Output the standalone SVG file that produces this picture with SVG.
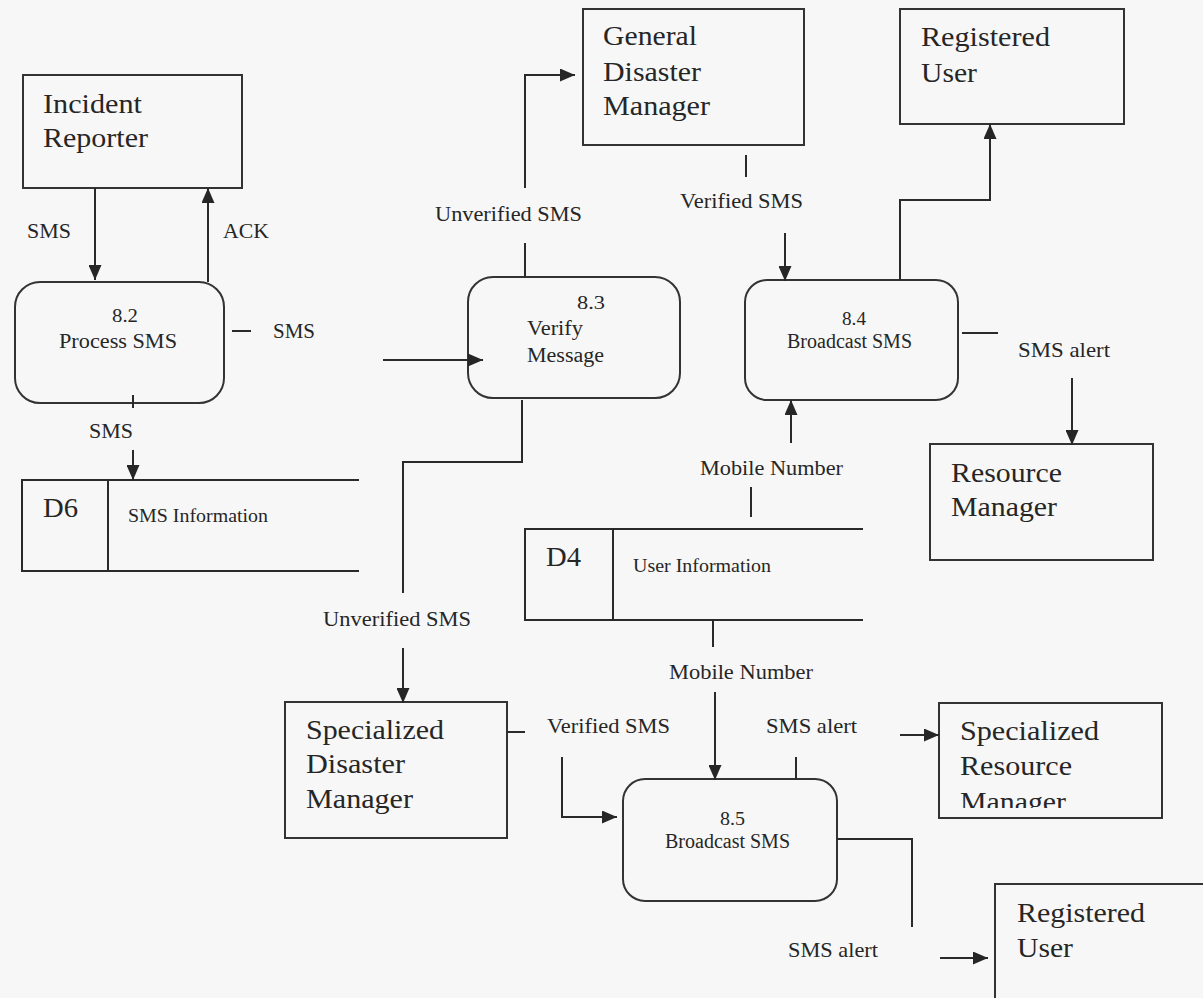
<svg xmlns="http://www.w3.org/2000/svg" width="1203" height="998" viewBox="0 0 1203 998">
  <defs>
    <marker id="arrow" markerUnits="userSpaceOnUse" markerWidth="15" markerHeight="13" refX="15" refY="6.5" orient="auto">
      <path d="M0,0 L15,6.5 L0,13 Z" fill="#262626"/>
    </marker>
    <clipPath id="srm-clip">
      <rect x="939" y="703" width="223" height="105"/>
    </clipPath>
  </defs>
  <style>
    .box { fill: none; stroke: #333; stroke-width: 2; }
    .proc { fill: none; stroke: #333; stroke-width: 2; }
    .wire { fill: none; stroke: #2a2a2a; stroke-width: 2; }
    .flow { stroke: #2a2a2a; stroke-width: 2; fill: none; marker-end: url(#arrow); }
    text { font-family: "Liberation Serif", "Times New Roman", serif; fill: #262626; }
    .ent { font-size: 27px; }
    .lbl { font-size: 21px; }
    .num { font-size: 18px; }
    .pname { font-size: 20px; }
    .store { font-size: 18px; }
    .sid { font-size: 27px; }
  </style>

  <rect x="0" y="0" width="1203" height="998" fill="#f7f7f7"/>

  <!-- external entities -->
  <g id="incident-reporter">
    <rect class="box" x="23" y="75" width="219" height="113"/>
    <text class="ent" x="43" y="113" textLength="99" lengthAdjust="spacingAndGlyphs">Incident</text>
    <text class="ent" x="43" y="147" textLength="105" lengthAdjust="spacingAndGlyphs">Reporter</text>
  </g>

  <g id="general-disaster-manager">
    <rect class="box" x="583" y="9" width="221" height="136"/>
    <text class="ent" x="603" y="45" textLength="94" lengthAdjust="spacingAndGlyphs">General</text>
    <text class="ent" x="603" y="81" textLength="98" lengthAdjust="spacingAndGlyphs">Disaster</text>
    <text class="ent" x="603" y="115" textLength="107" lengthAdjust="spacingAndGlyphs">Manager</text>
  </g>

  <g id="registered-user-top">
    <rect class="box" x="900" y="9" width="224" height="115"/>
    <text class="ent" x="921" y="46" textLength="129" lengthAdjust="spacingAndGlyphs">Registered</text>
    <text class="ent" x="921" y="82" textLength="56" lengthAdjust="spacingAndGlyphs">User</text>
  </g>

  <g id="resource-manager">
    <rect class="box" x="930" y="444" width="223" height="116"/>
    <text class="ent" x="951" y="482" textLength="111" lengthAdjust="spacingAndGlyphs">Resource</text>
    <text class="ent" x="951" y="516" textLength="106" lengthAdjust="spacingAndGlyphs">Manager</text>
  </g>

  <g id="specialized-disaster-manager">
    <rect class="box" x="285" y="702" width="222" height="136"/>
    <text class="ent" x="306" y="739" textLength="138" lengthAdjust="spacingAndGlyphs">Specialized</text>
    <text class="ent" x="306" y="773" textLength="99" lengthAdjust="spacingAndGlyphs">Disaster</text>
    <text class="ent" x="306" y="808" textLength="107" lengthAdjust="spacingAndGlyphs">Manager</text>
  </g>

  <g id="specialized-resource-manager">
    <rect class="box" x="939" y="703" width="223" height="115"/>
    <text class="ent" x="960" y="740" textLength="139" lengthAdjust="spacingAndGlyphs">Specialized</text>
    <text class="ent" x="960" y="775" textLength="112" lengthAdjust="spacingAndGlyphs">Resource</text>
    <text class="ent" x="960" y="811" textLength="106" lengthAdjust="spacingAndGlyphs" clip-path="url(#srm-clip)">Manager</text>
  </g>

  <g id="registered-user-bottom">
    <rect class="box" x="995" y="884" width="220" height="130"/>
    <text class="ent" x="1017" y="922" textLength="128" lengthAdjust="spacingAndGlyphs">Registered</text>
    <text class="ent" x="1017" y="957" textLength="56" lengthAdjust="spacingAndGlyphs">User</text>
  </g>

  <!-- processes -->
  <g id="process-8-2">
    <rect class="proc" x="15" y="282" width="209" height="121" rx="25" ry="25"/>
    <text class="num" x="112" y="322" textLength="26" lengthAdjust="spacingAndGlyphs">8.2</text>
    <text class="pname" x="59" y="348" textLength="118" lengthAdjust="spacingAndGlyphs">Process SMS</text>
  </g>

  <g id="process-8-3">
    <rect class="proc" x="468" y="277" width="212" height="121" rx="25" ry="25"/>
    <text class="num" x="577" y="309" textLength="28" lengthAdjust="spacingAndGlyphs">8.3</text>
    <text class="pname" x="527" y="335" textLength="56" lengthAdjust="spacingAndGlyphs">Verify</text>
    <text class="pname" x="527" y="362" textLength="77" lengthAdjust="spacingAndGlyphs">Message</text>
  </g>

  <g id="process-8-4">
    <rect class="proc" x="745" y="280" width="213" height="120" rx="22" ry="22"/>
    <text class="num" x="842" y="325" textLength="24" lengthAdjust="spacingAndGlyphs">8.4</text>
    <text class="pname" x="787" y="348" textLength="125" lengthAdjust="spacingAndGlyphs">Broadcast SMS</text>
  </g>

  <g id="process-8-5">
    <rect class="proc" x="623" y="779" width="214" height="122" rx="22" ry="22"/>
    <text class="num" x="720" y="825" textLength="25" lengthAdjust="spacingAndGlyphs">8.5</text>
    <text class="pname" x="665" y="848" textLength="125" lengthAdjust="spacingAndGlyphs">Broadcast SMS</text>
  </g>

  <!-- data stores -->
  <g id="store-d6">
    <path class="wire" d="M359,480 H22 V571 H359 M108,480 V571"/>
    <text class="sid" x="43" y="517" textLength="35" lengthAdjust="spacingAndGlyphs">D6</text>
    <text class="store" x="128" y="522" textLength="140" lengthAdjust="spacingAndGlyphs">SMS Information</text>
  </g>

  <g id="store-d4">
    <path class="wire" d="M863,529 H525 V620 H863 M613,529 V620"/>
    <text class="sid" x="546" y="566" textLength="35" lengthAdjust="spacingAndGlyphs">D4</text>
    <text class="store" x="633" y="572" textLength="138" lengthAdjust="spacingAndGlyphs">User Information</text>
  </g>

  <!-- data flows -->
  <g id="connectors">
    <!-- Incident Reporter <-> 8.2 -->
    <line class="flow" x1="95" y1="188" x2="95" y2="280"/>
    <line class="flow" x1="208" y1="282" x2="208" y2="188"/>

    <!-- 8.2 -> 8.3 -->
    <line class="wire" x1="232" y1="331" x2="251" y2="331"/>
    <line class="flow" x1="383" y1="360" x2="483" y2="360"/>

    <!-- 8.2 -> D6 -->
    <line class="wire" x1="133" y1="395" x2="133" y2="408"/>
    <line class="flow" x1="133" y1="450" x2="133" y2="480"/>

    <!-- 8.3 -> General Disaster Manager -->
    <line class="wire" x1="525" y1="277" x2="525" y2="243"/>
    <path class="flow" d="M525,188 V75 H575"/>

    <!-- General Disaster Manager -> 8.4 -->
    <line class="wire" x1="746" y1="155" x2="746" y2="177"/>
    <line class="flow" x1="785" y1="233" x2="785" y2="281"/>

    <!-- 8.4 -> Registered User -->
    <path class="flow" d="M900,280 V200 H990 V124"/>

    <!-- 8.4 -> Resource Manager -->
    <line class="wire" x1="962" y1="333" x2="998" y2="333"/>
    <line class="flow" x1="1072" y1="378" x2="1072" y2="445"/>

    <!-- D4 -> 8.4 -->
    <line class="wire" x1="751" y1="487" x2="751" y2="517"/>
    <line class="flow" x1="791" y1="443" x2="791" y2="400"/>

    <!-- 8.3 -> Specialized Disaster Manager -->
    <path class="wire" d="M522,400 V462 H403 V593"/>
    <line class="flow" x1="403" y1="648" x2="403" y2="703"/>

    <!-- D4 -> 8.5 -->
    <line class="wire" x1="713" y1="620" x2="713" y2="647"/>
    <line class="flow" x1="715" y1="692" x2="715" y2="780"/>

    <!-- Specialized Disaster Manager -> 8.5 -->
    <line class="wire" x1="507" y1="732" x2="525" y2="732"/>
    <path class="flow" d="M562,757 V817 H617"/>

    <!-- 8.5 -> Specialized Resource Manager -->
    <line class="wire" x1="796" y1="757" x2="796" y2="779"/>
    <line class="flow" x1="900" y1="735" x2="939" y2="735"/>

    <!-- 8.5 -> Registered User -->
    <path class="wire" d="M837,839 H912 V927"/>
    <line class="flow" x1="940" y1="958" x2="988" y2="958"/>
  </g>

  <!-- flow labels -->
  <g id="flow-labels">
    <text class="lbl" x="27" y="238" textLength="44" lengthAdjust="spacingAndGlyphs">SMS</text>
    <text class="lbl" x="223" y="238" textLength="46" lengthAdjust="spacingAndGlyphs">ACK</text>
    <text class="lbl" x="273" y="338" textLength="42" lengthAdjust="spacingAndGlyphs">SMS</text>
    <text class="lbl" x="89" y="438" textLength="44" lengthAdjust="spacingAndGlyphs">SMS</text>
    <text class="lbl" x="435" y="221" textLength="147" lengthAdjust="spacingAndGlyphs">Unverified SMS</text>
    <text class="lbl" x="680" y="208" textLength="123" lengthAdjust="spacingAndGlyphs">Verified SMS</text>
    <text class="lbl" x="1018" y="357" textLength="92" lengthAdjust="spacingAndGlyphs">SMS alert</text>
    <text class="lbl" x="700" y="475" textLength="143" lengthAdjust="spacingAndGlyphs">Mobile Number</text>
    <text class="lbl" x="323" y="626" textLength="148" lengthAdjust="spacingAndGlyphs">Unverified SMS</text>
    <text class="lbl" x="669" y="679" textLength="144" lengthAdjust="spacingAndGlyphs">Mobile Number</text>
    <text class="lbl" x="547" y="733" textLength="123" lengthAdjust="spacingAndGlyphs">Verified SMS</text>
    <text class="lbl" x="766" y="733" textLength="91" lengthAdjust="spacingAndGlyphs">SMS alert</text>
    <text class="lbl" x="788" y="957" textLength="90" lengthAdjust="spacingAndGlyphs">SMS alert</text>
  </g>
</svg>
